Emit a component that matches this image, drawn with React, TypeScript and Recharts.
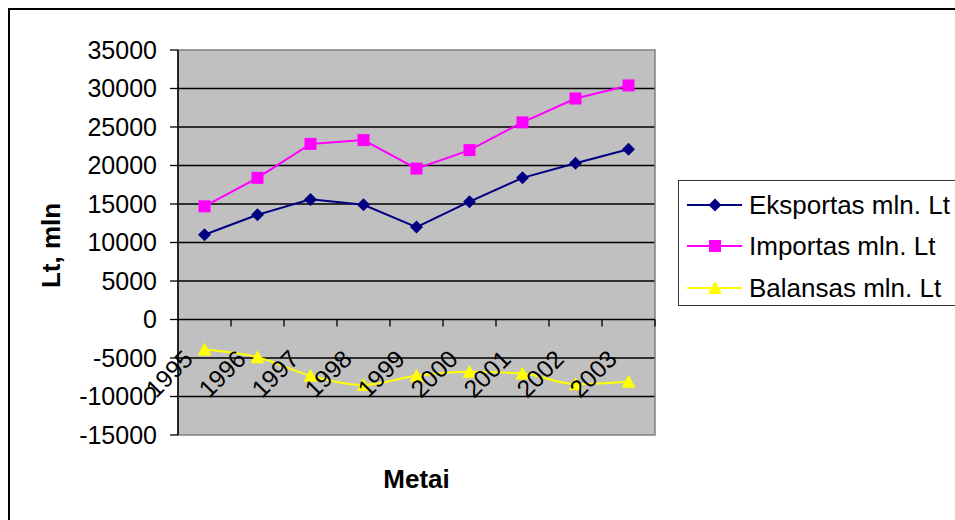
import React from 'react';
import { LineChart, Line, XAxis, YAxis, CartesianGrid, ReferenceLine, ReferenceArea, Legend } from 'recharts';

// Lithuanian foreign trade, mln. Lt
const YEARS = ['1995', '1996', '1997', '1998', '1999', '2000', '2001', '2002', '2003'];
const EKSPORTAS = [11000, 13600, 15600, 14900, 12000, 15300, 18400, 20300, 22100];
const IMPORTAS = [14700, 18400, 22800, 23300, 19600, 22000, 25600, 28700, 30400];
const BALANSAS = [-3900, -4900, -7300, -8500, -7300, -6800, -7000, -8400, -8100];
const Y_TICKS = [35000, 30000, 25000, 20000, 15000, 10000, 5000, 0, -5000, -10000, -15000];
const INNER_GRID = [30000, 25000, 20000, 15000, 10000, 5000, -5000, -10000];

const data = YEARS.map((year, i) => ({
  year,
  eksportas: EKSPORTAS[i],
  importas: IMPORTAS[i],
  balansas: BALANSAS[i],
}));

const SERIES = [
  { key: 'eksportas', name: 'Eksportas mln. Lt', color: '#000080', marker: 'diamond', curve: 'linear' },
  { key: 'importas', name: 'Importas mln. Lt', color: '#FF00FF', marker: 'square', curve: 'linear' },
  { key: 'balansas', name: 'Balansas mln. Lt', color: '#FFFF00', marker: 'triangle', curve: 'monotone' },
];

// layout
const WIDTH = 947;
const HEIGHT = 512;
const MARGIN = { top: 42, right: 300, bottom: 84, left: 20 };
const Y_AXIS_W = 150;
const Y_MIN = -15000;
const Y_MAX = 35000;
const PLOT_W = WIDTH - MARGIN.left - MARGIN.right - Y_AXIS_W;
const PLOT_H = HEIGHT - MARGIN.top - MARGIN.bottom - 1;
const ZERO_Y = MARGIN.top + (PLOT_H * Y_MAX) / (Y_MAX - Y_MIN);
const BAND = PLOT_W / YEARS.length;
const FONT = '"Liberation Sans", Arial, Helvetica, sans-serif';

const Marker = ({ type, cx, cy, color }: any) => {
  if (cx == null || cy == null) return null;
  if (type === 'diamond') {
    return <polygon points={`${cx},${cy - 6.5} ${cx + 6.5},${cy} ${cx},${cy + 6.5} ${cx - 6.5},${cy}`} fill={color} />;
  }
  if (type === 'square') {
    return <rect x={cx - 6} y={cy - 6} width={12} height={12} fill={color} />;
  }
  return <polygon points={`${cx},${cy - 7} ${cx + 7},${cy + 6} ${cx - 7},${cy + 6}`} fill={color} />;
};

// category ticks sit on the zero line, marks at the band boundaries
const YearTick = ({ x, payload }: any) => {
  const ax = x - 10;
  const ay = ZERO_Y + 41;
  return (
    <g>
      <line x1={x + BAND / 2} x2={x + BAND / 2} y1={ZERO_Y} y2={ZERO_Y + 7} stroke="#000" strokeWidth={1.3} />
      <text x={ax} y={ay} textAnchor="end" transform={`rotate(-45, ${ax}, ${ay})`} fontSize={24.5} fill="#000">
        {payload.value}
      </text>
    </g>
  );
};

const LegendBox = () => (
  <div
    style={{
      border: '1px solid #333',
      background: '#fff',
      width: 300,
      height: 126,
      paddingTop: 3,
      boxSizing: 'border-box',
      fontFamily: FONT,
    }}
  >
    {SERIES.map((s) => (
      <div key={s.key} style={{ display: 'flex', alignItems: 'center', height: 41.5 }}>
        <svg width={70} height={20} style={{ display: 'block' }}>
          <line x1={8} x2={63} y1={10} y2={10} stroke={s.color} strokeWidth={2} />
          <Marker type={s.marker} cx={36} cy={10} color={s.color} />
        </svg>
        <span style={{ fontSize: 26, lineHeight: 1, whiteSpace: 'nowrap', color: '#000' }}>{s.name}</span>
      </div>
    ))}
  </div>
);

export default function App() {
  return (
    <div
      style={{
        position: 'fixed',
        left: 8,
        top: 8,
        width: WIDTH,
        height: HEIGHT,
        overflow: 'hidden',
        background: '#fff',
        fontFamily: FONT,
      }}
    >
      <LineChart width={WIDTH} height={HEIGHT} data={data} margin={MARGIN}>
        <CartesianGrid vertical={false} fill="#C0C0C0" stroke="#000" strokeWidth={1.3} horizontalValues={INNER_GRID} />
        <ReferenceArea y1={Y_MIN} y2={Y_MAX} fill="none" stroke="#808080" strokeWidth={1.5} />
        <XAxis
          dataKey="year"
          scale="band"
          height={1}
          interval={0}
          axisLine={false}
          tickLine={false}
          tick={<YearTick />}
          label={{
            content: ({ viewBox }: any) => (
              <text
                x={viewBox.x + viewBox.width / 2}
                y={viewBox.y + 53}
                textAnchor="middle"
                fontSize={26}
                fontWeight="bold"
                fill="#000"
              >
                Metai
              </text>
            ),
          }}
        />
        <YAxis
          type="number"
          width={Y_AXIS_W}
          domain={[Y_MIN, Y_MAX]}
          ticks={Y_TICKS}
          interval={0}
          allowDataOverflow
          tickSize={8}
          tickMargin={13}
          axisLine={{ stroke: '#000', strokeWidth: 1.5 }}
          tickLine={{ stroke: '#000', strokeWidth: 1.3 }}
          tick={{ fill: '#000', fontSize: 25 }}
          label={{
            content: ({ viewBox }: any) => {
              const lx = viewBox.x + 32;
              const ly = viewBox.y + viewBox.height / 2 + 3;
              return (
                <text
                  x={lx}
                  y={ly}
                  textAnchor="middle"
                  transform={`rotate(-90, ${lx}, ${ly})`}
                  fontSize={26}
                  fontWeight="bold"
                  fill="#000"
                >
                  Lt, mln
                </text>
              );
            },
          }}
        />
        <ReferenceLine y={0} stroke="#000" strokeWidth={1.3} />
        {SERIES.map((s) => (
          <Line
            key={s.key}
            type={s.curve as any}
            dataKey={s.key}
            name={s.name}
            stroke={s.color}
            strokeWidth={2}
            isAnimationActive={false}
            dot={(p: any) => <Marker key={`${s.key}-${p.index}`} type={s.marker} cx={p.cx} cy={p.cy} color={s.color} />}
            activeDot={false}
          />
        ))}
        <Legend
          layout="vertical"
          align="center"
          verticalAlign="middle"
          content={() => <LegendBox />}
          wrapperStyle={{ left: 670, top: 172, width: 'auto', height: 'auto' }}
        />
      </LineChart>
      <div
        style={{
          position: 'absolute',
          left: 0,
          top: 0,
          width: 1000,
          height: 600,
          border: '2px solid #000',
          boxSizing: 'border-box',
          pointerEvents: 'none',
        }}
      />
    </div>
  );
}
